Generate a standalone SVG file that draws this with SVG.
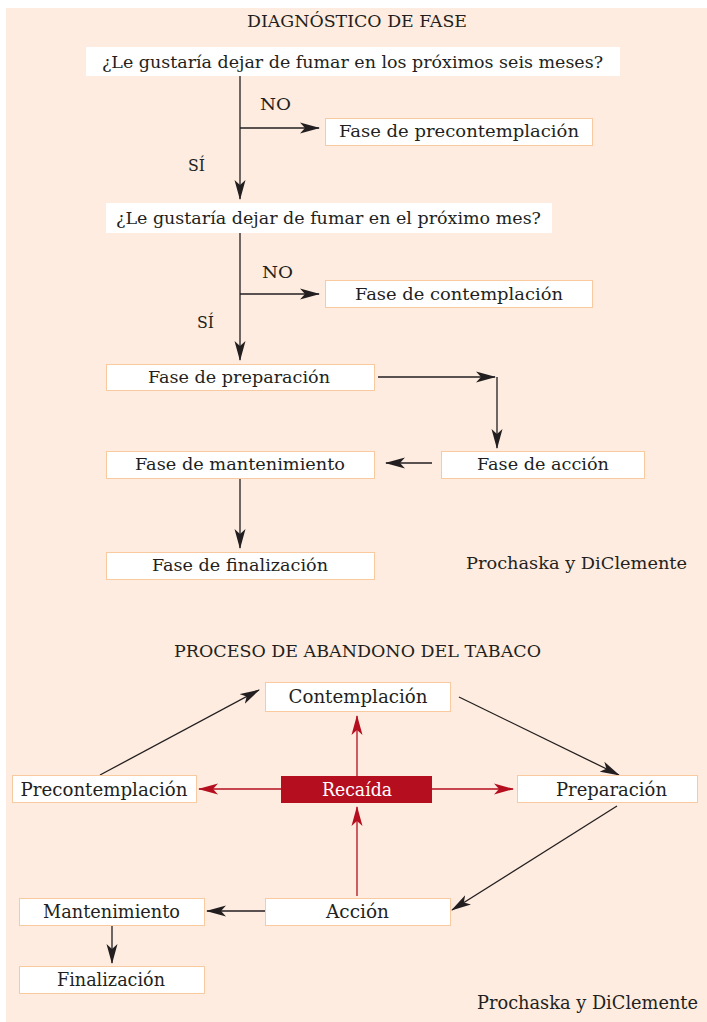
<svg xmlns="http://www.w3.org/2000/svg" width="707" height="1022" viewBox="0 0 707 1022">
<style>
text{font-family:"DejaVu Serif","Liberation Serif",serif;font-size:17px;fill:#231f20}
.c{text-anchor:middle}
.b{font-size:18px}
.box{fill:#ffffff;stroke:#f9c9a0;stroke-width:1}
.q{fill:#ffffff}
.ln{stroke:#231f20;stroke-width:1.3;fill:none}
.rl{stroke:#b50e1f;stroke-width:1.3;fill:none}
.w{fill:#ffffff}
</style>
<defs>
<marker id="ak" markerUnits="userSpaceOnUse" markerWidth="20" markerHeight="12" refX="19" refY="6" orient="auto" viewBox="0 0 20 12">
<path d="M0,0.5 L20,6 L0,11.5 L5,6 z" fill="#231f20"/>
</marker>
<marker id="ar" markerUnits="userSpaceOnUse" markerWidth="20" markerHeight="12" refX="19" refY="6" orient="auto" viewBox="0 0 20 12">
<path d="M0,0.5 L20,6 L0,11.5 L5,6 z" fill="#b50e1f"/>
</marker>
</defs>
<rect x="6" y="8" width="701" height="1014" fill="#fdecdf"/>

<text class="c" x="357" y="27" textLength="220" lengthAdjust="spacingAndGlyphs">DIAGNÓSTICO DE FASE</text>

<g id="connectors1">
<path class="ln" d="M240,76 V199" marker-end="url(#ak)"/>
<path class="ln" d="M240,128 H319" marker-end="url(#ak)"/>
<path class="ln" d="M240,233 V360" marker-end="url(#ak)"/>
<path class="ln" d="M240,294 H319" marker-end="url(#ak)"/>
<path class="ln" d="M378,377 H495"  marker-end="url(#ak)"/>
<path class="ln" d="M497,377 V448" marker-end="url(#ak)"/>
<path class="ln" d="M432,463 H386" marker-end="url(#ak)"/>
<path class="ln" d="M240,478 V548" marker-end="url(#ak)"/>
<text x="260" y="110" textLength="31" lengthAdjust="spacingAndGlyphs">NO</text>
<text x="188" y="171" textLength="17" lengthAdjust="spacingAndGlyphs">SÍ</text>
<text x="262" y="278" textLength="31" lengthAdjust="spacingAndGlyphs">NO</text>
<text x="197" y="328" textLength="17" lengthAdjust="spacingAndGlyphs">SÍ</text>
</g>

<g id="q1"><rect class="q" x="86" y="47" width="534" height="29"/>
<text class="c" x="352.5" y="68" textLength="501" lengthAdjust="spacingAndGlyphs">¿Le gustaría dejar de fumar en los próximos seis meses?</text></g>
<g id="precont"><rect class="box" x="325.5" y="118.5" width="267" height="27"/>
<text class="c" x="459" y="137" textLength="240" lengthAdjust="spacingAndGlyphs">Fase de precontemplación</text></g>
<g id="q2"><rect class="q" x="106" y="203" width="446" height="30"/>
<text class="c" x="328.5" y="224" textLength="425" lengthAdjust="spacingAndGlyphs">¿Le gustaría dejar de fumar en el próximo mes?</text></g>
<g id="cont"><rect class="box" x="325.5" y="280.5" width="267" height="27"/>
<text class="c" x="459" y="300" textLength="208" lengthAdjust="spacingAndGlyphs">Fase de contemplación</text></g>
<g id="prep"><rect class="box" x="106.5" y="364.5" width="268" height="26"/>
<text class="c" x="239" y="383" textLength="182" lengthAdjust="spacingAndGlyphs">Fase de preparación</text></g>
<g id="accion"><rect class="box" x="441.5" y="451.5" width="203" height="27"/>
<text class="c" x="543" y="470" textLength="132" lengthAdjust="spacingAndGlyphs">Fase de acción</text></g>
<g id="mant"><rect class="box" x="106.5" y="451.5" width="268" height="27"/>
<text class="c" x="240" y="470" textLength="210" lengthAdjust="spacingAndGlyphs">Fase de mantenimiento</text></g>
<g id="final"><rect class="box" x="106.5" y="552.5" width="268" height="27"/>
<text class="c" x="240" y="571" textLength="176" lengthAdjust="spacingAndGlyphs">Fase de finalización</text></g>
<text x="466" y="569" textLength="221" lengthAdjust="spacingAndGlyphs">Prochaska y DiClemente</text>

<text class="c" x="357.5" y="657" textLength="367" lengthAdjust="spacingAndGlyphs">PROCESO DE ABANDONO DEL TABACO</text>

<g id="connectors2">
<path class="ln" d="M100,775 L259,690" marker-end="url(#ak)"/>
<path class="ln" d="M459,697 L619,775" marker-end="url(#ak)"/>
<path class="ln" d="M617,806 L452,910" marker-end="url(#ak)"/>
<path class="ln" d="M265,911 H207" marker-end="url(#ak)"/>
<path class="ln" d="M112,925 V963" marker-end="url(#ak)"/>
<path class="rl" d="M357,776 V716" marker-end="url(#ar)"/>
<path class="rl" d="M281,789 H199" marker-end="url(#ar)"/>
<path class="rl" d="M432,789 H513" marker-end="url(#ar)"/>
<path class="rl" d="M357,896 V807" marker-end="url(#ar)"/>
</g>

<g id="b-cont"><rect class="box" x="265.5" y="682.5" width="185" height="29"/>
<text class="c b" x="358" y="703" textLength="139" lengthAdjust="spacingAndGlyphs">Contemplación</text></g>
<g id="b-precont"><rect class="box" x="12.5" y="775.5" width="184" height="27"/>
<text class="c b" x="104" y="796" textLength="167" lengthAdjust="spacingAndGlyphs">Precontemplación</text></g>
<g id="b-recaida"><rect x="281" y="776" width="151" height="27" fill="#b50e1f"/>
<text class="c b w" x="357" y="796" textLength="70" lengthAdjust="spacingAndGlyphs">Recaída</text></g>
<g id="b-prep"><rect class="box" x="517.5" y="775.5" width="180" height="27"/>
<text class="c b" x="611.5" y="796" textLength="111" lengthAdjust="spacingAndGlyphs">Preparación</text></g>
<g id="b-accion"><rect class="box" x="265.5" y="898.5" width="185" height="27"/>
<text class="c b" x="357.5" y="918" textLength="63" lengthAdjust="spacingAndGlyphs">Acción</text></g>
<g id="b-mant"><rect class="box" x="19.5" y="898.5" width="185" height="27"/>
<text class="c b" x="111.5" y="918" textLength="137" lengthAdjust="spacingAndGlyphs">Mantenimiento</text></g>
<g id="b-final"><rect class="box" x="19.5" y="966.5" width="185" height="27"/>
<text class="c b" x="111" y="986" textLength="108" lengthAdjust="spacingAndGlyphs">Finalización</text></g>
<text class="b" x="477" y="1009" textLength="221" lengthAdjust="spacingAndGlyphs">Prochaska y DiClemente</text>
</svg>
